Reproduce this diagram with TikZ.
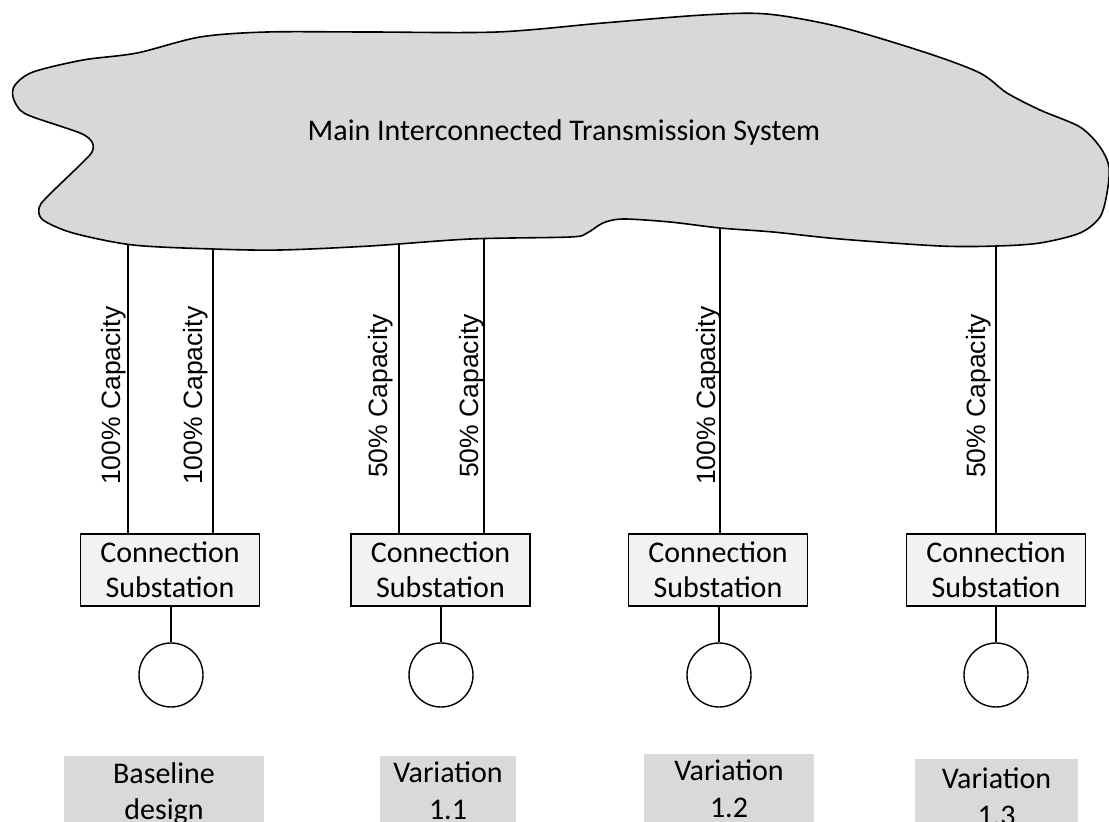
\documentclass[tikz,border=0pt]{standalone}
\usepackage{fontspec}
\setmainfont{Carlito}
\newfontfamily\capfont{Liberation Sans}
\definecolor{cloudgray}{RGB}{216,216,216}
\definecolor{labelgray}{RGB}{217,217,217}
\definecolor{subfill}{RGB}{242,242,242}
\begin{document}
\begin{tikzpicture}[x=1pt,y=-1pt,
  substation/.style={draw=black, line width=1.6pt, fill=subfill, minimum width=179pt, minimum height=72pt, inner sep=0pt, align=center, font=\fontsize{30}{35}\selectfont},
  gen/.style={circle, draw=black, line width=1.4pt, minimum size=64pt, inner sep=0pt},
  wire/.style={line width=1.3pt},
  caplabel/.style={rotate=90, anchor=base west, inner sep=0pt, font=\capfont\fontsize{26.5}{30}\selectfont},
  tag/.style={fill=labelgray, anchor=north, inner xsep=0pt, inner ysep=6pt, align=center, font=\fontsize{30}{36.6}\selectfont},
  cloudshape/.style={fill=cloudgray, draw=black, line width=1.6pt}
]
\clip (0,0) rectangle (1109,822);

% connection points inside the cloud
\coordinate (t1) at (128,235);
\coordinate (t2) at (213,235);
\coordinate (t3) at (399,230);
\coordinate (t4) at (484,225);
\coordinate (t5) at (720,215);
\coordinate (t6) at (996,235);

% substations
\node[substation] (s1) at (170,570) {Connection\\Substation};
\node[substation] (s2) at (440.5,570) {Connection\\Substation};
\node[substation] (s3) at (718,570) {Connection\\Substation};
\node[substation] (s4) at (996,570) {Connection\\Substation};

% lines from the transmission system
\draw[wire] (t1) -- (t1 |- s1.north);
\draw[wire] (t2) -- (t2 |- s1.north);
\draw[wire] (t3) -- (t3 |- s2.north);
\draw[wire] (t4) -- (t4 |- s2.north);
\draw[wire] (t5) -- (t5 |- s3.north);
\draw[wire] (t6) -- (t6 |- s4.north);

% cloud
\draw[cloudshape] plot[smooth cycle, tension=0.5] coordinates {
(137,53) (200,37) (267,32) (370,32) (497,32) (603,23) (703,15) (767,14)
(840,27) (927,53) (980,73) (1007,93) (1040,110) (1080,127) (1100,147)
(1109,167) (1107,193) (1100,217) (1080,233) (1040,243) (997,246) (940,246)
(840,239) (773,232) (720,228) (670,222) (623,219) (603,223) (587,233)
(570,237) (470,239) (370,246) (280,250) (213,249) (133,245) (73,233)
(43,220) (39,208) (47,197) (80,165) (92,152) (92,142) (80,133) (33,117)
(20,110) (13,97) (15,85) (33,72) (83,60)};
\node[anchor=base, font=\fontsize{30}{36}\selectfont] (mits) at (564,140) {Main Interconnected Transmission System};

% capacity labels
\node[caplabel] (c1) at (120,485) {100\% Capacity};
\node[caplabel] (c2) at (202,485) {100\% Capacity};
\node[caplabel] (c3) at (387,478) {50\% Capacity};
\node[caplabel] (c4) at (478,478) {50\% Capacity};
\node[caplabel] (c5) at (715,485) {100\% Capacity};
\node[caplabel] (c6) at (985,478) {50\% Capacity};

% generators
\node[gen] (g1) at (171,675) {};
\node[gen] (g2) at (441,675) {};
\node[gen] (g3) at (719,675) {};
\node[gen] (g4) at (996,675) {};
\draw[wire] (s1.south -| g1) -- (g1.north);
\draw[wire] (s2.south -| g2) -- (g2.north);
\draw[wire] (s3.south -| g3) -- (g3.north);
\draw[wire] (s4.south -| g4) -- (g4.north);

% design tags
\node[tag, text width=200pt] (d1) at (164,756) {Baseline\\design};
\node[tag, text width=136pt] (d2) at (448,756) {Variation\\1.1};
\node[tag, text width=170pt] (d3) at (729,754) {Variation\\1.2};
\node[tag, text width=163pt, inner ysep=9pt] (d4) at (996.5,759) {Variation\\1.3};
\end{tikzpicture}
\end{document}
